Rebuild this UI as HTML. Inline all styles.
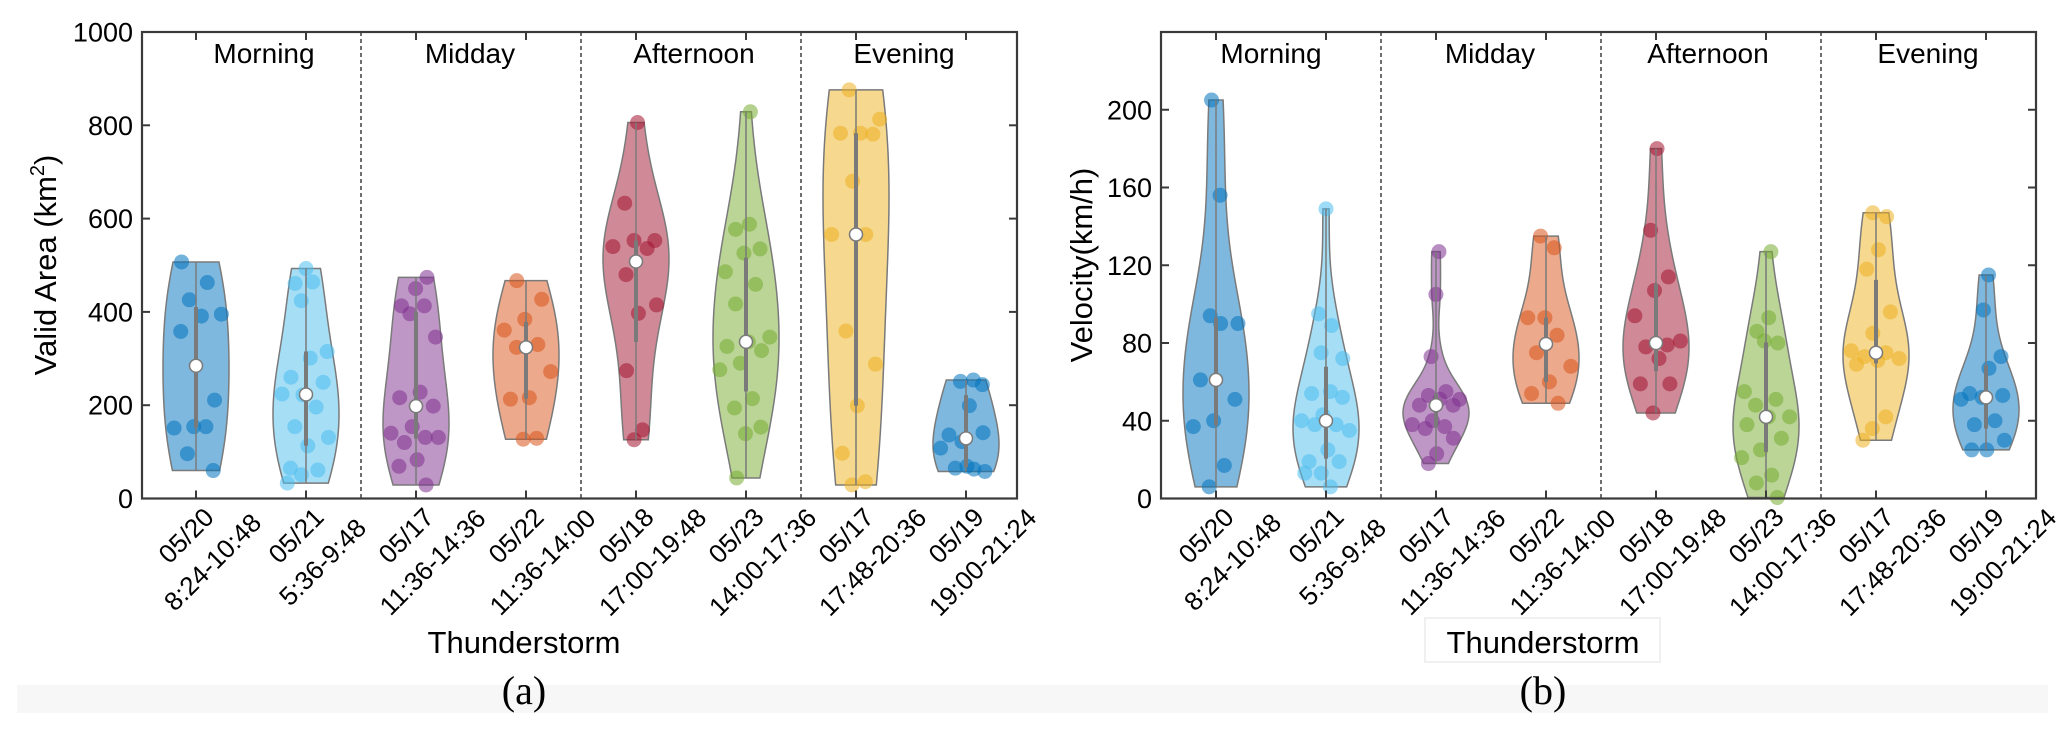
<!DOCTYPE html>
<html><head><meta charset="utf-8"><title>Thunderstorm violin plots</title>
<style>
html,body{margin:0;padding:0;background:#fff;}
svg{display:block;}
text{font-family:"Liberation Sans",Arial,sans-serif;fill:#000;}
</style></head>
<body>
<svg id="fig" width="2067" height="733" viewBox="0 0 2067 733" xmlns="http://www.w3.org/2000/svg">
<rect x="0" y="0" width="2067" height="733" fill="#fff"/>
<rect x="17" y="685" width="2031" height="28" fill="#f8f7f7"/>
<rect x="1425" y="618" width="235" height="44" fill="#fff" stroke="#f0f0f0" stroke-width="2"/>
<g id="pa"></g>
<g id="pb"></g>
</svg>
<script>
const catDates = ["05/20","05/21","05/17","05/22","05/18","05/23","05/17","05/19"];
const catTimes = ["8:24-10:48","5:36-9:48","11:36-14:36","11:36-14:00","17:00-19:48","14:00-17:36","17:48-20:36","19:00-21:24"];
const groupNames = ["Morning","Midday","Afternoon","Evening"];
const colors = ["#0072BD","#4DBEEE","#7E2F8E","#D95319","#A2142F","#77AC30","#EDB120","#0072BD"];

const areaTicks = [0,200,400,600,800,1000];
const velTicks = [0,40,80,120,160,200];

const area1 = [507,463,426,395,391,358,211,154,151,154,96,60];
const area2 = [493,461,464,424,315,301,260,249,222,224,196,154,131,113,65,61,51,33];
const area3 = [474,450,413,413,396,346,228,216,198,154,140,131,120,131,83,69,29];
const area4 = [467,427,384,361,330,324,272,216,213,129,127];
const area5 = [806,633,553,553,540,536,480,415,397,274,147,126];
const area6 = [829,588,577,535,526,486,459,417,346,336,326,317,290,276,214,194,153,139,44];
const area7 = [876,813,783,783,781,680,566,566,359,288,199,97,36,29];
const area8 = [254,251,244,199,136,141,122,108,63,65,58,69];

const vel1 = [205,156,94,90,90,61,51,40,37,17,6];
const vel2 = [149,95,89,75,72,55,54,52,43,40,38,38,35,25,19,19,13,13,6];
const vel3 = [127,105,73,55,53,51,51,48,48,40,38,37,36,31,23,18];
const vel4 = [135,129,93,93,84,75,68,60,54,49];
const vel5 = [180,138,114,107,94,79,78,81,72,59,59,44];
const vel6 = [127,93,86,80,81,55,51,48,42,42,38,31,25,21,12,8,0.5];
const vel7 = [147,145,128,118,96,85,76,75,73,72,71,69,42,36,30];
const vel8 = [115,97,73,67,54,53,52,51,40,38,30,25,25];

const areaData = [area1,area2,area3,area4,area5,area6,area7,area8];
const velData = [vel1,vel2,vel3,vel4,vel5,vel6,vel7,vel8];

const NS = "http://www.w3.org/2000/svg";
function mk(tag, attrs, parent){
  const e = document.createElementNS(NS, tag);
  for (const k in attrs) e.setAttribute(k, attrs[k]);
  if (parent) parent.appendChild(e);
  return e;
}
function quant(arr, p){
  const s = arr.slice().sort((a,b)=>a-b); const n = s.length;
  let pos = p*n - 0.5; if (pos < 0) pos = 0; if (pos > n-1) pos = n-1;
  const lo = Math.floor(pos), hi = Math.ceil(pos);
  return s[lo] + (s[hi]-s[lo])*(pos-lo);
}

function drawPanel(g, cfg){
  const L = cfg.left, R = cfg.right, T = 32, B = 498.5;
  const yS = v => B - (v - cfg.ymin)/(cfg.ymax - cfg.ymin)*(B - T);
  const xS = i => cfg.firstX + i*110;
  const HW = 33;

  [2,4,6].forEach(i=>{
    const x = (xS(i-1)+xS(i))/2;
    const d = mk("line",{x1:x,y1:T,x2:x,y2:B,stroke:"#222","stroke-width":1.3,"stroke-dasharray":"4,3"},g);
    
    
  });
  groupNames.forEach((nm,k)=>{
    const t = mk("text",{x:cfg.groupX[k],y:63,"font-size":28,"text-anchor":"middle"},g);
    t.textContent = nm;
    
    
  });

  cfg.data.forEach((vals,i)=>{
    const cx = xS(i), col = colors[i];
    const vg = mk("g",{},g);
    
    
    const n = vals.length;
    const mn = Math.min(...vals), mx = Math.max(...vals);
    const med = quant(vals,0.5);
    const mad = quant(vals.map(v=>Math.abs(v-med)),0.5);
    let sig = mad/0.6745; if (!(sig>0)) sig = (mx-mn)/4 || 1;
    const h = 1.2*sig*Math.pow(4/(3*n),0.2);
    const dens = y => vals.reduce((s,v)=>s+Math.exp(-0.5*((y-v)/h)**2),0);
    const N = 80, ys = [], ds = [];
    for (let k=0;k<=N;k++){ const y = mn+(mx-mn)*k/N; ys.push(y); ds.push(dens(y)); }
    const dmax = Math.max(...ds);
    const wAt = y => HW*dens(y)/dmax;
    let p = "";
    for (let k=0;k<=N;k++) p += (k?"L":"M")+(cx+HW*ds[k]/dmax).toFixed(2)+","+yS(ys[k]).toFixed(2);
    for (let k=N;k>=0;k--) p += "L"+(cx-HW*ds[k]/dmax).toFixed(2)+","+yS(ys[k]).toFixed(2);
    p += "Z";
    const body = mk("path",{d:p,fill:col,"fill-opacity":0.5,stroke:"#7a7a7a","stroke-width":1.5},vg);
    
    
    vals.forEach((v,j)=>{
      const r = (((j*0.6180339+i*0.37+0.13)%1)*2-1);
      const px = cx + r*Math.max(wAt(v)*0.85,4);
      const c = mk("circle",{cx:px.toFixed(2),cy:yS(v).toFixed(2),r:7.5,fill:col,"fill-opacity":0.55},vg);
      
      
    });
    const wl = mk("line",{x1:cx,y1:yS(mn),x2:cx,y2:yS(mx),stroke:"#7a7a7a","stroke-width":1.5},vg);
    
    
    const q1 = quant(vals,0.25), q3 = quant(vals,0.75);
    const iq = mk("line",{x1:cx,y1:yS(q1),x2:cx,y2:yS(q3),stroke:"#7a7a7a","stroke-width":4},vg);
    
    
    const md = mk("circle",{cx:cx,cy:yS(med),r:6.5,fill:"#fff",stroke:"#7a7a7a","stroke-width":1.5},vg);
    
    
  });

  const box = mk("rect",{x:L,y:T,width:R-L,height:B-T,fill:"none",stroke:"#3a3a3a","stroke-width":2.2},g);
  
  
  cfg.ticks.forEach(v=>{
    const y = yS(v);
    mk("line",{x1:L,y1:y,x2:L+8,y2:y,stroke:"#3a3a3a","stroke-width":2},g);
    mk("line",{x1:R,y1:y,x2:R-8,y2:y,stroke:"#3a3a3a","stroke-width":2},g);
    const t = mk("text",{x:L-9,y:y+9.5,"font-size":27,"text-anchor":"end"},g);
    t.textContent = String(v);
    
    
  });
  catDates.forEach((d,i)=>{
    const x = xS(i);
    mk("line",{x1:x,y1:B,x2:x,y2:B-8,stroke:"#3a3a3a","stroke-width":2},g);
    mk("line",{x1:x,y1:T,x2:x,y2:T+8,stroke:"#3a3a3a","stroke-width":2},g);
    const lg = mk("g",{transform:"translate("+(x-10)+","+(B+37)+") rotate(-45)"},g);
    
    
    const t1 = mk("text",{x:0,y:0,"font-size":26,"text-anchor":"middle","dominant-baseline":"central"},lg);
    t1.textContent = d;
    const t2 = mk("text",{x:0,y:37.5,"font-size":26,"text-anchor":"middle","dominant-baseline":"central"},lg);
    t2.textContent = catTimes[i];
  });
  const xt = mk("text",{x:cfg.xTitleX,y:653,"font-size":31,"text-anchor":"middle"},g);
  xt.textContent = "Thunderstorm";
  
  
  const cap = mk("text",{x:cfg.xTitleX,y:704,"font-size":40,"text-anchor":"middle"},g);
  cap.setAttribute("style","font-family:'Liberation Serif',serif");
  cap.textContent = cfg.caption;
  
  
  const yt = mk("text",{transform:"translate("+cfg.yTitleX+",265) rotate(-90)","font-size":31,"text-anchor":"middle"},g);
  
  
  if (cfg.sup){
    yt.appendChild(document.createTextNode(cfg.yTitle));
    const s = mk("tspan",{"font-size":20,dy:-12},yt); s.textContent = "2";
    const e = mk("tspan",{dy:12},yt); e.textContent = ")";
  } else yt.textContent = cfg.yTitle;
}

drawPanel(document.getElementById("pa"),{
  left:142,right:1017,firstX:196,ymin:0,ymax:1000,ticks:areaTicks,data:areaData,
  groupX:[264,470,694,904],xTitleX:524,caption:"(a)",yTitleX:56,yTitle:"Valid Area (km",sup:true
});
drawPanel(document.getElementById("pb"),{
  left:1161,right:2036,firstX:1216,ymin:0,ymax:240,ticks:velTicks,data:velData,
  groupX:[1271,1490,1708,1928],xTitleX:1543,caption:"(b)",yTitleX:1092,yTitle:"Velocity(km/h)",sup:false
});
</script>
</body></html>
